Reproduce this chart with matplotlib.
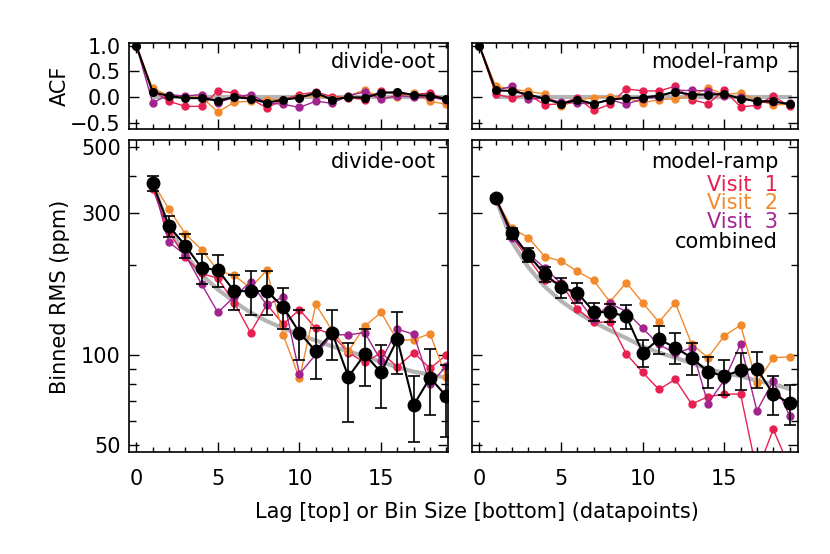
import numpy as np
import matplotlib
matplotlib.use('Agg')
import matplotlib.pyplot as plt
from matplotlib.ticker import FixedLocator, NullFormatter, FixedFormatter

plt.rcParams['font.family'] = 'DejaVu Sans'
plt.rcParams['font.size'] = 15

red = '#e8204f'
orange = '#f28a2c'
purple = '#a3248f'
gray = '#b4b4b4'

lags = np.arange(20)
bins = np.arange(1, 20)

# ACF, divide-oot
acf_oot_v1 = [1.0, 0.12, -0.08, -0.18, -0.18, 0.12, 0.08, -0.03, -0.21, -0.05,
              0.05, 0.10, 0.01, -0.01, -0.05, 0.12, 0.05, 0.05, 0.08, -0.06]
acf_oot_v2 = [1.0, 0.17, 0.03, 0.0, 0.0, -0.29, -0.10, -0.08, -0.05, -0.05,
              0.0, 0.03, -0.03, 0.02, 0.14, -0.01, 0.0, 0.08, -0.08, -0.14]
acf_oot_v3 = [1.0, -0.11, 0.05, 0.02, 0.05, -0.11, 0.0, 0.05, -0.11, -0.14,
              -0.20, -0.08, -0.12, 0.03, 0.10, -0.04, 0.03, 0.0, 0.0, -0.06]
acf_oot_all = [1.0, 0.10, 0.02, -0.02, -0.02, -0.07, 0.0, -0.03, -0.11, -0.05,
               -0.01, 0.08, -0.05, 0.0, -0.01, 0.08, 0.10, 0.04, 0.03, -0.04]

# ACF, model-ramp
acf_ramp_v1 = [1.0, 0.06, -0.02, 0.05, -0.15, -0.13, -0.01, -0.26, -0.14, 0.16,
               0.12, 0.12, 0.21, -0.05, -0.13, 0.13, -0.19, -0.16, 0.02, -0.18]
acf_ramp_v2 = [1.0, 0.21, 0.16, 0.11, 0.06, -0.18, -0.06, -0.01, 0.01, -0.02,
               -0.11, -0.05, -0.03, 0.02, 0.18, 0.05, 0.08, -0.06, -0.15, -0.14]
acf_ramp_v3 = [1.0, 0.13, 0.21, -0.04, -0.02, -0.10, -0.12, -0.13, -0.05, -0.14,
               -0.03, 0.0, 0.13, 0.13, 0.12, 0.02, 0.0, -0.10, -0.10, -0.12]
acf_ramp_all = [1.0, 0.13, 0.12, 0.05, -0.03, -0.13, -0.05, -0.13, -0.05, -0.02,
                -0.01, 0.03, 0.10, 0.05, 0.05, 0.06, -0.03, -0.08, -0.08, -0.14]

# binned RMS (ppm), divide-oot
rms_oot_v1 = [362, 259, 213, 188, 181, 150, 119, 148, 127, 142,
              123, 117, 102, 94.5, 101.8, 91.4, 102, 90.2, 100]
rms_oot_v2 = [380, 309, 255, 226, 192, 185, 168, 193, 117, 83.5,
              148, 121, 103, 125, 139, 112, 112.6, 118, 84.3]
rms_oot_v3 = [381, 239, 217, 173, 139, 157, 176, 147, 157, 86.4,
              100.5, 117, 117, 119, 95.7, 122, 117.6, 79.8, 91.9]
rms_oot_all = [377, 271, 233, 196, 193, 164, 164, 164, 145, 119,
               103, 119, 84.6, 100.5, 87.5, 113, 68, 84, 72.8]
err_oot_all = [21, 21.5, 21, 23, 23.5, 22, 28, 27.5, 22.5, 23,
               20, 23, 25, 21.5, 21, 26.5, 17, 21, 19.5]
white_oot = [377, 266, 217, 186, 166, 151, 139, 130, 123, 117,
             112, 107, 103, 99, 95, 91, 88, 86, 84]

# binned RMS (ppm), model-ramp
rms_ramp_v1 = [336, 249, 211, 178, 175, 143, 129, 129, 101, 87.5,
               76.7, 82.9, 68.5, 72.5, 74, 74, 40.5, 56.3, 42]
rms_ramp_v2 = [336, 266, 248, 214, 207, 191, 178, 151, 175, 150,
               129, 150, 109, 98, 116, 126, 80.7, 98, 98.7]
rms_ramp_v3 = [336, 248, 219, 196, 174, 155, 132, 149, 140, 123,
               108.6, 101.3, 105.8, 68.8, 82.4, 109, 65, 82, 62.6]
rms_ramp_all = [336, 256, 217, 187, 169, 162, 140, 139, 135, 102,
                113, 106, 98, 88, 85, 89, 90, 74, 69]
err_ramp_all = [5, 11.5, 12, 11, 13, 13, 10, 9.5, 12.5, 10.5,
                12.5, 12.5, 12, 10.5, 11.5, 12.5, 12.5, 11, 10.5]
white_ramp = [336, 240, 197, 170, 152, 139, 129, 121, 114, 107,
              102, 98, 94, 90, 87, 85, 82, 80, 77]

visit_names = ['Visit  1', 'Visit  2', 'Visit  3', 'combined']
visit_colors = [red, orange, purple, 'black']

fig = plt.figure(figsize=(8.3, 5.54), dpi=100)
ax_tl = fig.add_axes([0.1554, 0.7671, 0.3843, 0.1552])
ax_tr = fig.add_axes([0.5687, 0.7671, 0.3928, 0.1552])
ax_bl = fig.add_axes([0.1554, 0.1841, 0.3843, 0.5632])
ax_br = fig.add_axes([0.5687, 0.1841, 0.3928, 0.5632])


def style_axis(ax, xmax):
    ax.set_xlim(-0.45, xmax)
    ax.xaxis.set_major_locator(FixedLocator([0, 5, 10, 15]))
    ax.xaxis.set_minor_locator(FixedLocator(np.arange(0, 20)))
    ax.tick_params(which='both', direction='in', top=True, right=True,
                   width=1.0, labelsize=15)
    ax.tick_params(which='major', length=7)
    ax.tick_params(which='minor', length=3.5)
    ax.tick_params(axis='x', pad=12)
    ax.tick_params(axis='y', pad=6)
    for s in ax.spines.values():
        s.set_linewidth(1.2)


def draw_acf(ax, v1, v2, v3, comb, name, xmax):
    ax.plot(lags[1:], np.zeros(len(lags) - 1), color=gray, lw=3, zorder=1)
    for vals, c in zip([v1, v2, v3], [red, orange, purple]):
        ax.plot(lags, vals, color=c, lw=1, marker='o', ms=5, zorder=2)
    ax.plot(lags, comb, color='black', lw=1.5, marker='o', ms=5.5, zorder=3)
    ax.set_ylim(-0.62, 1.05)
    ax.yaxis.set_major_locator(FixedLocator([-0.5, 0.0, 0.5, 1.0]))
    ax.text(0.962 if xmax < 19.3 else 0.939, 0.78, name, transform=ax.transAxes,
            ha='right', va='center', fontsize=15)
    style_axis(ax, xmax)
    ax.set_xticklabels([])


def draw_rms(ax, v1, v2, v3, comb, err, white, name, xmax):
    ax.set_yscale('log')
    ax.plot(bins, white, color=gray, lw=3, zorder=1, solid_capstyle='round')
    for vals, c in zip([v1, v2, v3], [red, orange, purple]):
        ax.plot(bins, vals, color=c, lw=1, marker='o', ms=5, zorder=2)
    ax.errorbar(bins, comb, yerr=err, color='black', lw=1.5, marker='o', ms=9,
                capsize=4, elinewidth=1.2, capthick=1.2, zorder=3)
    ax.set_ylim(47.3, 527)
    ax.yaxis.set_major_locator(FixedLocator([50, 100, 300, 500]))
    ax.yaxis.set_major_formatter(FixedFormatter(['50', '100', '300', '500']))
    ax.yaxis.set_minor_locator(FixedLocator([60, 70, 80, 90, 200, 400]))
    ax.yaxis.set_minor_formatter(NullFormatter())
    style_axis(ax, xmax)
    ax.tick_params(axis='y', which='minor', length=5)
    ax.text(0.962 if xmax < 19.3 else 0.939, 0.929, name, transform=ax.transAxes,
            ha='right', va='center', fontsize=15)


draw_acf(ax_tl, acf_oot_v1, acf_oot_v2, acf_oot_v3, acf_oot_all, 'divide-oot', 19.1)
draw_acf(ax_tr, acf_ramp_v1, acf_ramp_v2, acf_ramp_v3, acf_ramp_all, 'model-ramp', 19.52)
draw_rms(ax_bl, rms_oot_v1, rms_oot_v2, rms_oot_v3, rms_oot_all, err_oot_all,
         white_oot, 'divide-oot', 19.1)
draw_rms(ax_br, rms_ramp_v1, rms_ramp_v2, rms_ramp_v3, rms_ramp_all, err_ramp_all,
         white_ramp, 'model-ramp', 19.52)

ax_tr.set_yticklabels([])
ax_br.set_yticklabels([])

# legend as coloured text in the right-hand panel
legend_y = [0.856, 0.797, 0.737, 0.673]
for name, c, yy in zip(visit_names, visit_colors, legend_y):
    ax_br.text(0.939, yy, name, transform=ax_br.transAxes, ha='right',
               va='center', color=c, fontsize=15)

fig.text(0.072, 1 - 86 / 554, 'ACF', rotation=90, ha='center', va='center', fontsize=15)
fig.text(0.072, 1 - 297 / 554, 'Binned RMS (ppm)', rotation=90, ha='center',
         va='center', fontsize=15)
fig.text(477 / 830, 1 - 512 / 554, 'Lag [top] or Bin Size [bottom] (datapoints)',
         ha='center', va='center', fontsize=15)

fig.savefig('out.png', dpi=100)
